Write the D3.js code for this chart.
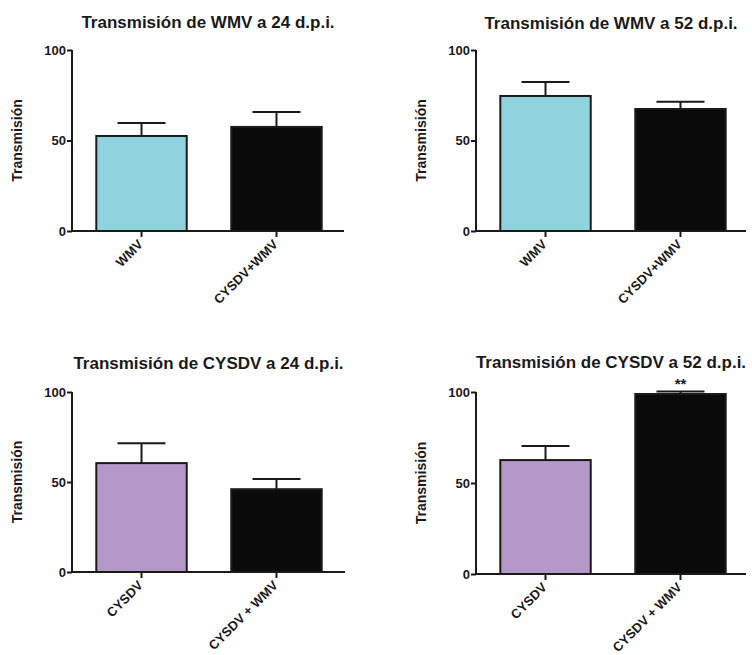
<!DOCTYPE html>
<html>
<head>
<meta charset="utf-8">
<script src="https://cdn.jsdelivr.net/npm/d3@7"></script>
<style>
  body { margin: 0; background: #fff; }
  svg { display: block; }
  text { font-family: "Liberation Sans", Arial, Helvetica, sans-serif; font-weight: bold; fill: #1a1a1a; }
</style>
</head>
<body>
<svg id="chart" width="752" height="655"></svg>
<script>
// ---- data ----
const titles = [
  "Transmisión de WMV a 24 d.p.i.",
  "Transmisión de WMV a 52 d.p.i.",
  "Transmisión de CYSDV a 24 d.p.i.",
  "Transmisión de CYSDV a 52 d.p.i."
];
const categoriesTop = ["WMV", "CYSDV+WMV"];
const categoriesBottom = ["CYSDV", "CYSDV + WMV"];
const values = [
  [52.5, 57.5],
  [74.6, 67.4],
  [60.5, 46.0],
  [62.6, 98.9]
];
const errors = [
  [7.2, 8.2],
  [7.7, 4.0],
  [11.0, 5.7],
  [7.7, 1.4]
];
const yTicks = [0, 50, 100];
const significance = [["", ""], ["", ""], ["", ""], ["", "**"]];
const yLabel = "Transmisión";
const colorsTop = ["#8fd3de", "#0a0a0a"];
const colorsBottom = ["#b498c8", "#0a0a0a"];

// ---- layout ----
const panels = [
  { x0: 72,  x1: 344, yTop: 50,  yBot: 231, titleY: 28,  cats: categoriesTop,    colors: colorsTop },
  { x0: 476, x1: 746, yTop: 50,  yBot: 231, titleY: 29,  cats: categoriesTop,    colors: colorsTop },
  { x0: 72,  x1: 345, yTop: 392, yBot: 572, titleY: 369, cats: categoriesBottom, colors: colorsBottom },
  { x0: 476, x1: 746, yTop: 392, yBot: 574, titleY: 368, cats: categoriesBottom, colors: colorsBottom }
];

const svg = d3.select("#chart");
const ink = "#1a1a1a";

panels.forEach((p, i) => {
  const g = svg.append("g");
  const x = d3.scaleBand().domain(p.cats).range([p.x0, p.x0 + 274]).paddingInner(0.33).paddingOuter(0.18);
  const y = d3.scaleLinear().domain([0, 100]).range([p.yBot, p.yTop]);
  const data = p.cats.map((c, j) => ({ c, v: values[i][j], e: errors[i][j], col: p.colors[j], sig: significance[i][j] }));

  // bars
  g.selectAll("rect.bar").data(data).enter().append("rect")
    .attr("x", d => x(d.c))
    .attr("y", d => y(d.v))
    .attr("width", x.bandwidth())
    .attr("height", d => y(0) - y(d.v))
    .attr("fill", d => d.col)
    .attr("stroke", ink)
    .attr("stroke-width", 2);

  // error bars
  const capW = 48;
  g.selectAll("line.err").data(data).enter().append("line")
    .attr("x1", d => x(d.c) + x.bandwidth() / 2)
    .attr("x2", d => x(d.c) + x.bandwidth() / 2)
    .attr("y1", d => y(d.v))
    .attr("y2", d => y(d.v + d.e))
    .attr("stroke", ink).attr("stroke-width", 2);
  g.selectAll("line.cap").data(data).enter().append("line")
    .attr("x1", d => x(d.c) + x.bandwidth() / 2 - capW / 2)
    .attr("x2", d => x(d.c) + x.bandwidth() / 2 + capW / 2)
    .attr("y1", d => y(d.v + d.e))
    .attr("y2", d => y(d.v + d.e))
    .attr("stroke", ink).attr("stroke-width", 2);

  // significance
  g.selectAll("text.sig").data(data.filter(d => d.sig)).enter().append("text")
    .attr("x", d => x(d.c) + x.bandwidth() / 2)
    .attr("y", d => y(d.v + d.e) - 2)
    .attr("text-anchor", "middle")
    .style("font-size", "15px")
    .text(d => d.sig);

  // y axis
  const yAxis = d3.axisLeft(y).tickValues(yTicks).tickSize(5).tickPadding(1).tickSizeOuter(0);
  const ya = g.append("g").attr("transform", `translate(${p.x0},0)`).call(yAxis);
  ya.select(".domain").attr("stroke", ink).attr("stroke-width", 2).attr("d", `M0,${p.yTop}V${p.yBot}`);
  ya.selectAll(".tick line").attr("stroke", ink).attr("stroke-width", 2);
  ya.selectAll(".tick text").style("font-size", "13px").style("font-family", "Liberation Sans, Arial, sans-serif").style("font-weight", "bold").attr("fill", ink);

  // x axis
  const xAxis = d3.axisBottom(x).tickSize(6).tickSizeOuter(0);
  const xa = g.append("g").attr("transform", `translate(0,${p.yBot})`).call(xAxis);
  xa.select(".domain").attr("stroke", ink).attr("stroke-width", 2).attr("d", `M${p.x0},0H${p.x1}`);
  xa.selectAll(".tick line").attr("stroke", ink).attr("stroke-width", 2);
  xa.selectAll(".tick text")
    .style("font-size", "13px").style("font-family", "Liberation Sans, Arial, sans-serif").style("font-weight", "bold").attr("fill", ink)
    .attr("text-anchor", "end")
    .attr("x", 0).attr("y", 0).attr("dy", "0.35em")
    .attr("transform", "translate(-1,11) rotate(-45)");

  // title
  g.append("text")
    .attr("x", (p.x0 + p.x1) / 2)
    .attr("y", p.titleY)
    .attr("text-anchor", "middle")
    .style("font-size", "17px")
    .text(titles[i]);

  // y label
  g.append("text")
    .attr("transform", `translate(${p.x0 - 50},${(p.yTop + p.yBot) / 2}) rotate(-90)`)
    .attr("text-anchor", "middle")
    .style("font-size", "14px")
    .text(yLabel);
});
</script>
</body>
</html>
